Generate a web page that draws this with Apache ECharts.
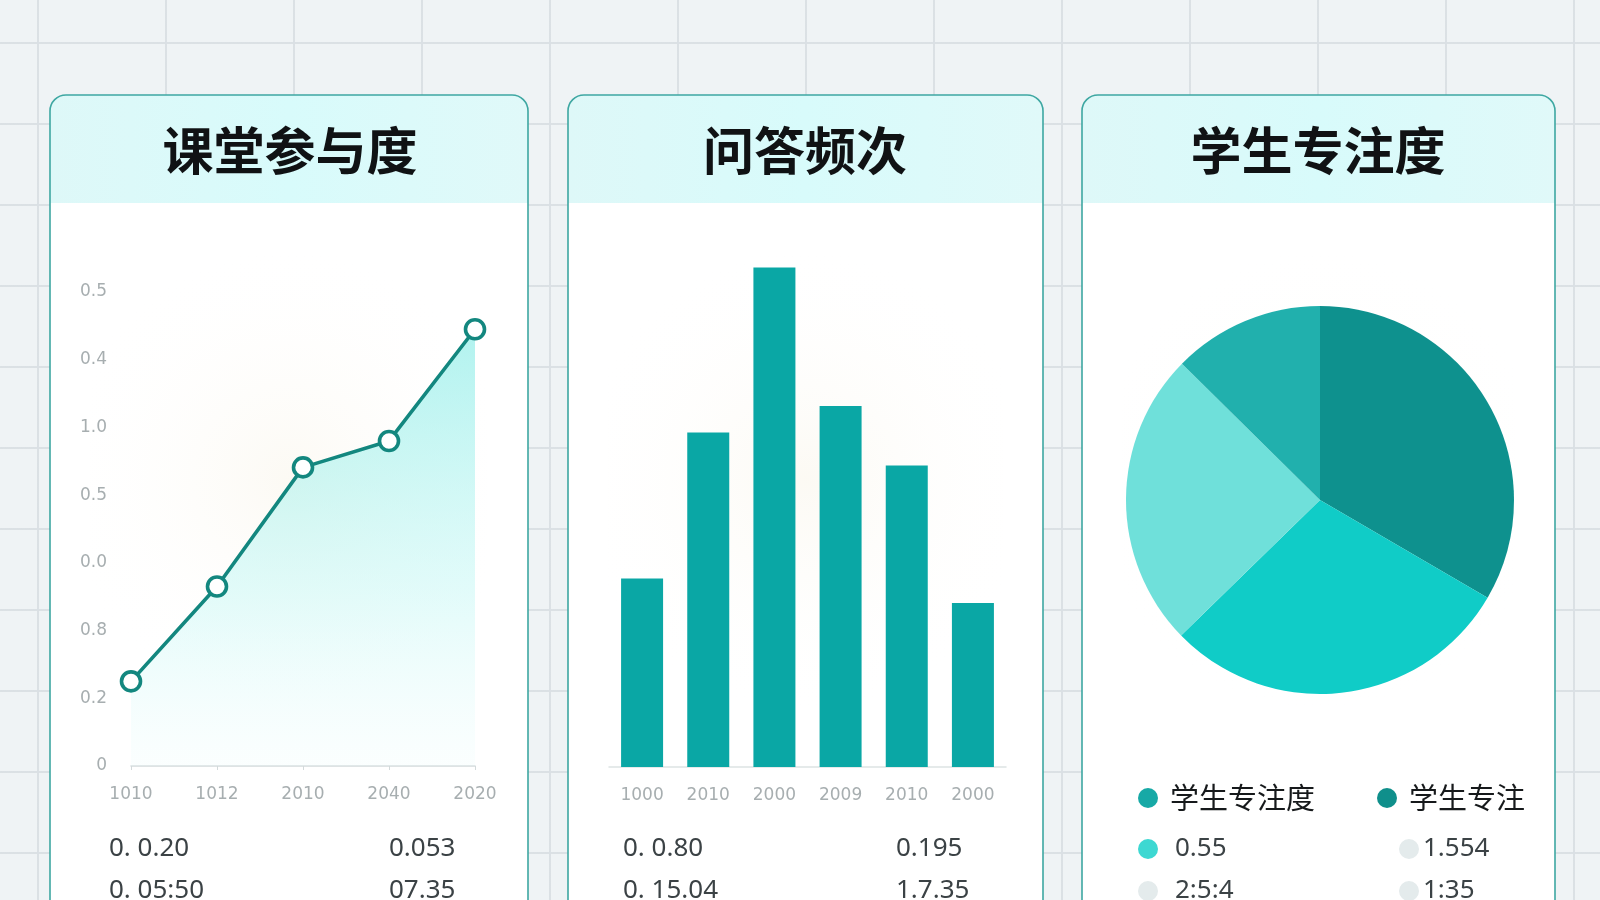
<!DOCTYPE html>
<html><head><meta charset="utf-8">
<script src="https://cdn.jsdelivr.net/npm/echarts@6/dist/echarts.min.js"></script>
<style>
html,body{margin:0;padding:0;width:1600px;height:900px;overflow:hidden;
background-color:#eff3f5;
background-image:
 linear-gradient(to right, rgba(218,224,228,0.95) 2px, transparent 2px),
 linear-gradient(to bottom, rgba(218,224,228,0.95) 2px, transparent 2px);
background-size:128px 81px;background-position:37px 42px;}
#c{width:1600px;height:900px;}
</style></head><body><div id="c"></div>
<script>
// ---- data ----
const panelTitles = ['课堂参与度', '问答频次', '学生专注度'];

const lineCats = ['1010', '1012', '2010', '2040', '2020'];
const lineVals = [1.25, 2.65, 4.41, 4.80, 6.45];
const lineTickLabels = ['0', '0.2', '0.8', '0.0', '0.5', '1.0', '0.4', '0.5'];

const barCats = ['1000', '2010', '2000', '2009', '2010', '2000'];
const barVals = [37.7, 66.9, 99.9, 72.2, 60.3, 32.8];

const pieNames = ['学生专注', '学生专注度', '0.55', '1.554'];
const pieVals = [33.4, 29.3, 24.7, 12.6];

const lineNotes = [['0. 0.20', '0.053'], ['0. 05:50', '07.35']];
const barNotes = [['0. 0.80', '0.195'], ['0. 15.04', '1.7.35']];
const legendRows = [
  [['学生专注度', '#17a9a6'], ['学生专注', '#0f8f8b']],
  [['0.55', '#3dd8d2'], ['1.554', '#e4ebec']],
  [['2:5:4', '#e4ebec'], ['1:35', '#e4ebec']]
];

// ---- layout ----
const panels = [
  {x: 50, w: 478, cx: 290},
  {x: 568, w: 475, cx: 805},
  {x: 1082, w: 473, cx: 1318}
];
const chart = echarts.init(document.getElementById('c'));
const g = [];
panels.forEach((p, i) => {
  g.push({type: 'rect', z: -10, shape: {x: p.x, y: 95, width: p.w, height: 860, r: 16},
    style: {fill: '#ffffff'}});
  g.push({type: 'rect', z: -9, shape: {x: p.x, y: 95, width: p.w, height: 108, r: [16, 16, 0, 0]},
    style: {fill: new echarts.graphic.LinearGradient(0, 0, 1, 0, [
      {offset: 0, color: '#def8f8'}, {offset: 0.5, color: '#d8fbfb'}, {offset: 1, color: '#e0f9f9'}])}});
  g.push({type: 'rect', z: -9, shape: {x: p.x + 40, y: 220, width: p.w - 80, height: 520},
    style: {fill: new echarts.graphic.RadialGradient(0.5, 0.5, 0.6, [
      {offset: 0, color: 'rgba(250,246,236,0.6)'}, {offset: 1, color: 'rgba(255,255,255,0)'}])}});
  g.push({type: 'rect', z: 20, shape: {x: p.x, y: 95, width: p.w, height: 860, r: 16},
    style: {fill: 'none', stroke: '#3ea7a2', lineWidth: 1.6}});
  g.push({type: 'text', z: 20, x: p.cx, y: 151,
    style: {text: panelTitles[i], fill: '#101214', font: 'bold 51px "Noto Sans CJK SC"',
      textAlign: 'center', textVerticalAlign: 'middle'}});
});
const noteFont = '26px "Noto Sans"';
function notes(arr, x1, x2) {
  arr.forEach((row, r) => {
    const y = 849 + r * 42;
    g.push({type: 'text', z: 20, x: x1, y: y, style: {text: row[0], fill: '#3b4245', font: noteFont, textVerticalAlign: 'middle'}});
    g.push({type: 'text', z: 20, x: x2, y: y, style: {text: row[1], fill: '#3b4245', font: noteFont, textVerticalAlign: 'middle'}});
  });
}
notes(lineNotes, 109, 389);
notes(barNotes, 623, 896);
legendRows.forEach((row, r) => {
  const y = r === 0 ? 798 : 849 + (r - 1) * 42;
  const xs = r === 0 ? [[1148, 1170], [1387, 1409]] : [[1148, 1175], [1409, 1423]];
  row.forEach((it, k) => {
    g.push({type: 'circle', z: 20, shape: {cx: xs[k][0], cy: y, r: 10}, style: {fill: it[1]}});
    g.push({type: 'text', z: 20, x: xs[k][1], y: y,
      style: {text: it[0], fill: r === 0 ? '#16191b' : '#3b4245',
        font: r === 0 ? '29px "Noto Sans CJK SC"' : noteFont, textVerticalAlign: 'middle'}});
  });
});

const option = {
  animation: false,
  graphic: g,
  grid: [
    {left: 131, top: 292, width: 344, height: 474},
    {left: 609, top: 257, width: 397, height: 510}
  ],
  xAxis: [
    {gridIndex: 0, type: 'category', data: lineCats, boundaryGap: false,
      axisLine: {lineStyle: {color: '#d3dadb', width: 1.5}},
      axisTick: {show: true, length: 4, lineStyle: {color: '#d3dadb'}},
      axisLabel: {color: '#a7aeb0', fontSize: 17, margin: 20, fontFamily: 'DejaVu Sans'}},
    {gridIndex: 1, type: 'category', data: barCats,
      axisLine: {lineStyle: {color: '#dde3e4', width: 1.5}},
      axisTick: {show: false},
      axisLabel: {color: '#a7aeb0', fontSize: 17, margin: 20, fontFamily: 'DejaVu Sans'}}
  ],
  yAxis: [
    {gridIndex: 0, type: 'value', min: 0, max: 7, interval: 1,
      splitLine: {show: false}, axisLine: {show: false}, axisTick: {show: false},
      axisLabel: {color: '#a7aeb0', fontSize: 17, margin: 24, fontFamily: 'DejaVu Sans',
        formatter: v => lineTickLabels[Math.round(v)]}},
    {gridIndex: 1, type: 'value', min: 0, max: 102, show: false, splitLine: {show: false}}
  ],
  series: [
    {type: 'line', xAxisIndex: 0, yAxisIndex: 0, data: lineVals,
      symbol: 'circle', symbolSize: 19,
      lineStyle: {color: '#13877f', width: 3.6},
      itemStyle: {color: '#ffffff', borderColor: '#13877f', borderWidth: 3.6},
      areaStyle: {color: new echarts.graphic.LinearGradient(0, 0, 0, 1, [
        {offset: 0, color: 'rgba(125,234,228,0.85)'},
        {offset: 0.6, color: 'rgba(185,246,243,0.6)'},
        {offset: 1, color: 'rgba(235,252,252,0.3)'}])}},
    {type: 'bar', xAxisIndex: 1, yAxisIndex: 1, data: barVals, barWidth: 42,
      itemStyle: {color: '#0aa7a5'}},
    {type: 'pie', center: [1320, 500], radius: 194, startAngle: 90, clockwise: true,
      label: {show: false}, labelLine: {show: false},
      data: pieNames.map((n, i) => ({name: n, value: pieVals[i],
        itemStyle: {color: ['#0e918e', '#10ccc7', '#6fe0da', '#21b0ad'][i]}}))}
  ]
};
chart.setOption(option);
</script></body></html>
